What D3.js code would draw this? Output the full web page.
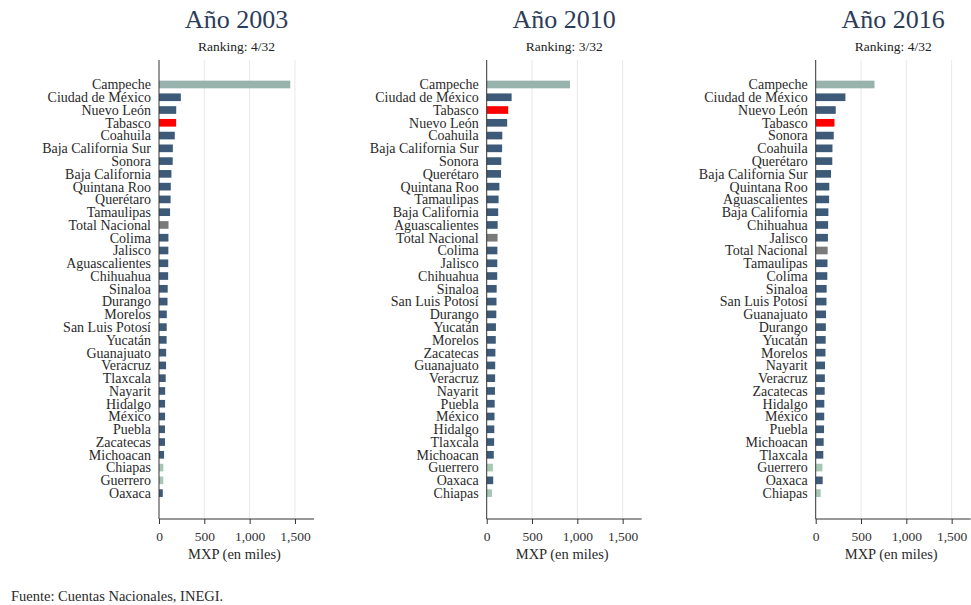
<!DOCTYPE html>
<html>
<head>
<meta charset="utf-8">
<script src="https://cdn.jsdelivr.net/npm/d3@7"></script>
<style>
  body { margin: 0; background: #fff; }
  svg { font-family: "Liberation Serif", "DejaVu Serif", serif; }
  .grid line { stroke: #e8e8e8; }
  .xaxis text { font-size: 13.5px; fill: #333; font-family: "Liberation Serif", serif; }
  .xaxis path, .xaxis line { stroke: #333; }
</style>
</head>
<body>
<div id="chart"></div>
<script>
  // year panels
  const years = ['2003', '2010', '2016'];
  const rankings = ['4/32', '3/32', '4/32'];
  const xTicks = [0, 500, 1000, 1500];

  const states2003 = ['Campeche', 'Ciudad de México', 'Nuevo León', 'Tabasco', 'Coahuila',
    'Baja California Sur', 'Sonora', 'Baja California', 'Quintana Roo', 'Querétaro',
    'Tamaulipas', 'Total Nacional', 'Colima', 'Jalisco', 'Aguascalientes', 'Chihuahua',
    'Sinaloa', 'Durango', 'Morelos', 'San Luis Potosí', 'Yucatán', 'Guanajuato',
    'Veracruz', 'Tlaxcala', 'Nayarit', 'Hidalgo', 'México', 'Puebla', 'Zacatecas',
    'Michoacan', 'Chiapas', 'Guerrero', 'Oaxaca'];
  const values2003 = [1448, 241, 190, 189, 174, 153, 151, 137, 130, 128, 122, 105, 104, 103,
    102, 101, 96, 94, 86, 85, 84, 79, 78, 74, 68, 67, 67, 66, 66, 56, 48, 47, 42];

  const states2010 = ['Campeche', 'Ciudad de México', 'Tabasco', 'Nuevo León', 'Coahuila',
    'Baja California Sur', 'Sonora', 'Querétaro', 'Quintana Roo', 'Tamaulipas',
    'Baja California', 'Aguascalientes', 'Total Nacional', 'Colima', 'Jalisco', 'Chihuahua',
    'Sinaloa', 'San Luis Potosí', 'Durango', 'Yucatán', 'Morelos', 'Zacatecas',
    'Guanajuato', 'Veracruz', 'Nayarit', 'Puebla', 'México', 'Hidalgo', 'Tlaxcala',
    'Michoacan', 'Guerrero', 'Oaxaca', 'Chiapas'];
  const values2010 = [919, 275, 237, 226, 172, 170, 161, 158, 140, 131, 127, 121, 120, 118,
    117, 116, 110, 108, 106, 102, 100, 96, 94, 93, 91, 88, 86, 84, 82, 78, 68, 72, 58];

  const states2016 = ['Campeche', 'Ciudad de México', 'Nuevo León', 'Tabasco', 'Sonora',
    'Coahuila', 'Querétaro', 'Baja California Sur', 'Quintana Roo', 'Aguascalientes',
    'Baja California', 'Chihuahua', 'Jalisco', 'Total Nacional', 'Tamaulipas', 'Colima',
    'Sinaloa', 'San Luis Potosí', 'Guanajuato', 'Durango', 'Yucatán', 'Morelos',
    'Nayarit', 'Veracruz', 'Zacatecas', 'Hidalgo', 'México', 'Puebla', 'Michoacan',
    'Tlaxcala', 'Guerrero', 'Oaxaca', 'Chiapas'];
  const values2016 = [649, 328, 221, 207, 199, 185, 183, 169, 150, 148, 140, 137, 135, 132,
    130, 128, 121, 119, 114, 112, 110, 108, 103, 101, 99, 95, 94, 92, 88, 84, 74, 77, 55];

  const panelStates = [states2003, states2010, states2016];
  const panelValues = [values2003, values2010, values2016];

  const barColor = function(state) {
    if (state === 'Tabasco') return '#ff0000';
    if (state === 'Campeche') return '#97b3ac';
    if (state === 'Total Nacional') return '#7a7a7a';
    if (state === 'Chiapas' || state === 'Guerrero') return '#a6c7b4';
    return '#3d5b78';
  };

  const width = 971;
  const height = 605;
  const panelLeft = [159, 486.7, 815.7];
  const plotWidth = 155;
  const plotTop = 60;
  const plotBottom = 519;

  const svg = d3.select('#chart')
    .append('svg')
    .attr('width', width)
    .attr('height', height);

  const x = d3.scaleLinear().domain([0, 1710]).range([0, plotWidth]);

  years.forEach(function(year, p) {
    const data = panelStates[p].map((s, i) => ({ state: s, value: panelValues[p][i] }));

    const y = d3.scaleBand()
      .domain(data.map(d => d.state))
      .range([78.1, 499.5])
      .paddingInner(0.4)
      .paddingOuter(0.2);

    const g = svg.append('g')
      .attr('transform', 'translate(' + panelLeft[p] + ',0)');

    // titles
    g.append('text')
      .attr('x', plotWidth / 2)
      .attr('y', 28)
      .attr('text-anchor', 'middle')
      .style('font-size', '26px')
      .style('fill', '#2c3d5a')
      .text('Año ' + year);

    g.append('text')
      .attr('x', plotWidth / 2)
      .attr('y', 51)
      .attr('text-anchor', 'middle')
      .style('font-size', '13.5px')
      .style('fill', '#222')
      .text('Ranking: ' + rankings[p]);

    // gridlines
    g.append('g')
      .attr('class', 'grid')
      .selectAll('line')
      .data(xTicks.slice(1))
      .enter().append('line')
      .attr('x1', d => x(d))
      .attr('x2', d => x(d))
      .attr('y1', plotTop)
      .attr('y2', plotBottom);

    // bars
    g.selectAll('rect.bar')
      .data(data)
      .enter().append('rect')
      .attr('class', 'bar')
      .attr('x', 0)
      .attr('y', d => y(d.state))
      .attr('width', d => x(d.value))
      .attr('height', y.bandwidth())
      .attr('fill', d => barColor(d.state));

    // state labels
    g.selectAll('text.lbl')
      .data(data)
      .enter().append('text')
      .attr('class', 'lbl')
      .attr('x', -8)
      .attr('y', d => y(d.state) + y.bandwidth() / 2)
      .attr('dy', '0.35em')
      .attr('text-anchor', 'end')
      .style('font-size', '14px')
      .style('fill', '#2a2a2a')
      .text(d => d.state);

    // y axis line
    g.append('line')
      .attr('x1', 0).attr('x2', 0)
      .attr('y1', plotTop).attr('y2', plotBottom)
      .style('stroke', '#333');

    // x axis
    const xAxis = g.append('g')
      .attr('class', 'xaxis')
      .attr('transform', 'translate(0,' + plotBottom + ')')
      .call(d3.axisBottom(x).tickValues(xTicks).tickFormat(d3.format(',')).tickSize(5).tickPadding(7).tickSizeOuter(0));
    xAxis.select('.domain').attr('d', 'M0,0H' + plotWidth);

    g.append('text')
      .attr('x', plotWidth / 2 - 2)
      .attr('y', 559)
      .attr('text-anchor', 'middle')
      .style('font-size', '14.5px')
      .style('fill', '#2a2a2a')
      .text('MXP (en miles)');
  });

  svg.append('text')
    .attr('x', 11)
    .attr('y', 601)
    .style('font-size', '14.5px')
    .style('fill', '#2a2a2a')
    .text('Fuente: Cuentas Nacionales, INEGI.');
</script>
</body>
</html>
